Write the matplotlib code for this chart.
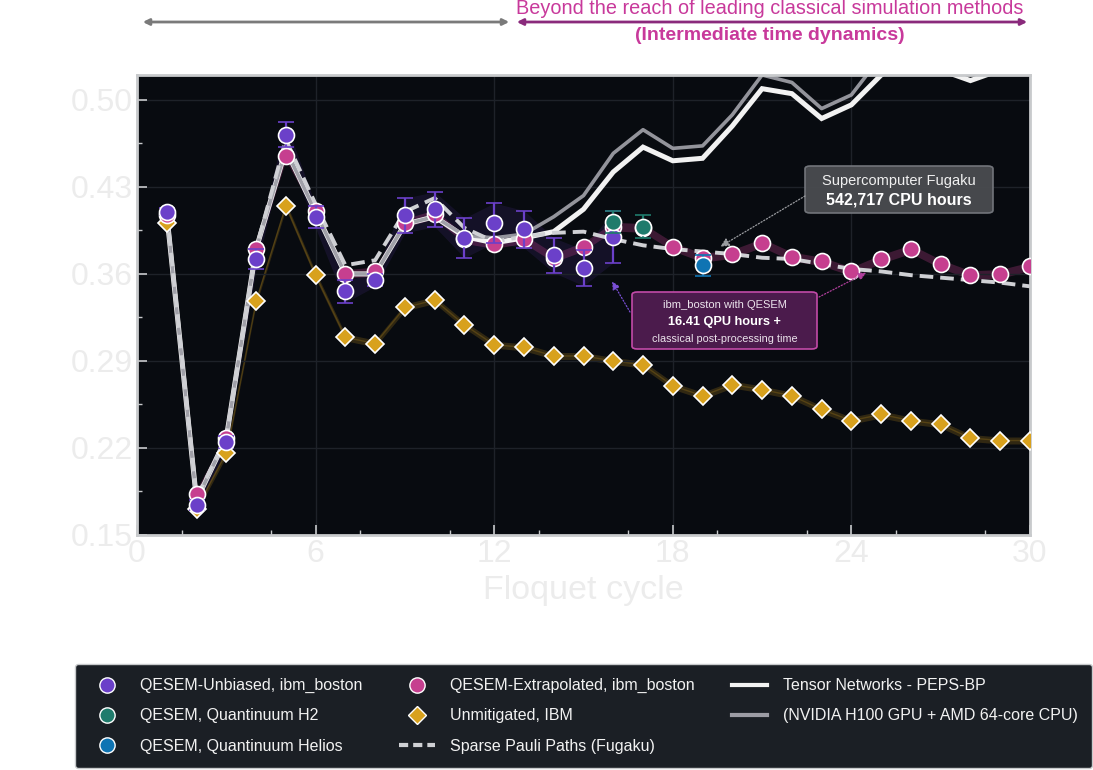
import numpy as np
import matplotlib
matplotlib.use("Agg")
import matplotlib.pyplot as plt
from matplotlib.lines import Line2D
from matplotlib.patches import FancyBboxPatch, FancyArrowPatch
from matplotlib.ticker import FixedLocator

plt.rcParams['font.family'] = ['Liberation Sans', 'DejaVu Sans']

# ---------------- data ----------------
cycles = list(range(1, 31))

unbiased_x = list(range(1, 17))
unbiased = [0.410, 0.174, 0.225, 0.372, 0.472, 0.406, 0.346, 0.355, 0.407, 0.412,
            0.389, 0.401, 0.396, 0.375, 0.365, 0.390]
unbiased_err = [0.003, 0.004, 0.005, 0.008, 0.010, 0.009, 0.009, 0.005, 0.014, 0.014,
                0.016, 0.016, 0.015, 0.014, 0.0145, 0.021]

extrapolated = [0.407, 0.183, 0.228, 0.380, 0.455, 0.411, 0.360, 0.362, 0.401, 0.408,
                0.388, 0.384, 0.388, 0.373, 0.382, 0.398, 0.397, 0.382, 0.373, 0.376,
                0.385, 0.374, 0.370, 0.362, 0.372, 0.380, 0.368, 0.359, 0.360, 0.366]
extrapolated_err = 0.0035

unmitigated = [0.401, 0.171, 0.216, 0.338, 0.415, 0.359, 0.309, 0.304, 0.333, 0.339,
               0.319, 0.303, 0.301, 0.294, 0.294, 0.290, 0.287, 0.270, 0.262, 0.271,
               0.267, 0.262, 0.251, 0.242, 0.247, 0.242, 0.239, 0.228, 0.226, 0.226]
unmitigated_err = 0.0028

h2_x = [16, 17]
h2 = [0.402, 0.398]
h2_err = [0.009, 0.009]

helios_x = [19]
helios = [0.367]
helios_err = [0.0085]

peps_bp = [0.408, 0.178, 0.228, 0.380, 0.460, 0.410, 0.360, 0.360, 0.400, 0.406,
           0.390, 0.385, 0.389, 0.394, 0.412, 0.442, 0.462, 0.451, 0.453, 0.479,
           0.509, 0.505, 0.485, 0.496, 0.520, 0.535, 0.524, 0.5155, 0.524, 0.535]
peps_gpu = [0.408, 0.178, 0.228, 0.380, 0.460, 0.410, 0.360, 0.360, 0.400, 0.406,
            0.391, 0.389, 0.392, 0.406, 0.423, 0.457, 0.476, 0.461, 0.463, 0.488,
            0.520, 0.514, 0.493, 0.504, 0.535, 0.550, 0.540, 0.535, 0.540, 0.550]
spp = [0.410, 0.180, 0.228, 0.380, 0.468, 0.416, 0.367, 0.371, 0.410, 0.421,
       0.397, 0.386, 0.390, 0.393, 0.394, 0.388, 0.383, 0.380, 0.378, 0.376,
       0.373, 0.372, 0.368, 0.364, 0.362, 0.359, 0.357, 0.355, 0.353, 0.350]

yticks = [0.15, 0.22, 0.29, 0.36, 0.43, 0.50]
xticks = [0, 6, 12, 18, 24, 30]

labels = ["QESEM-Unbiased, ibm_boston", "QESEM, Quantinuum H2", "QESEM, Quantinuum Helios",
          "QESEM-Extrapolated, ibm_boston", "Unmitigated, IBM", "Sparse Pauli Paths (Fugaku)",
          "Tensor Networks - PEPS-BP", "(NVIDIA H100 GPU + AMD 64-core CPU)"]

# ---------------- style ----------------
C_PURPLE = '#6b40c9'
C_PINK = '#c63f8f'
C_TEAL = '#1f7b6c'
C_BLUE = '#0f74b3'
C_GOLD = '#d8a11d'
C_WHITE = '#f2f2f2'
C_GRAY = '#9c9ca4'
C_DASH = '#cfd0d4'
C_TICK = '#ececec'

fig = plt.figure(figsize=(10.93, 7.70), dpi=100)
fig.patch.set_facecolor('white')
ax = fig.add_axes([137/1093, 1-535/770, 893/1093, 460/770])
ax.set_facecolor('#080b10')

x_c = np.array(cycles)
ub_x = np.array(unbiased_x)
ub = np.array(unbiased)
ub_e = np.array(unbiased_err)
ex = np.array(extrapolated)
um = np.array(unmitigated)

# bands
ax.fill_between(ub_x, ub - ub_e, ub + ub_e, color=C_PURPLE, alpha=0.13, lw=0, zorder=1)
ax.fill_between(x_c, ex - extrapolated_err, ex + extrapolated_err, color=C_PINK, alpha=0.28, lw=0, zorder=1)
ax.fill_between(x_c, um - unmitigated_err, um + unmitigated_err, color=C_GOLD, alpha=0.2, lw=0, zorder=1)
ax.plot(x_c, um, color=C_GOLD, alpha=0.22, lw=1, zorder=1.5)

# classical lines
ax.plot(x_c, peps_bp, color=C_WHITE, lw=3.6, zorder=2, solid_joinstyle='miter')
ax.plot(x_c, peps_gpu, color=C_GRAY, lw=2.6, alpha=0.95, zorder=2.1)
ax.plot(x_c, spp, color=C_DASH, lw=2.8, dashes=(3.5, 1.8), zorder=2.3)

# markers
mk = dict(markeredgecolor='white', markeredgewidth=1.2, linestyle='none')
ax.plot(x_c, um, marker='D', ms=9, color=C_GOLD, zorder=3, **mk)
ax.errorbar(x_c, ex, yerr=extrapolated_err, fmt='o', ms=11.5, color=C_PINK,
            ecolor=C_PINK, elinewidth=1.3, capsize=4, capthick=1.3,
            markeredgecolor='white', markeredgewidth=1.2, zorder=4)
ax.errorbar(ub_x, ub, yerr=ub_e, fmt='o', ms=11.5, color=C_PURPLE,
            ecolor=C_PURPLE, elinewidth=1.6, capsize=5.5, capthick=1.6,
            markeredgecolor='white', markeredgewidth=1.2, zorder=5)
ax.errorbar(h2_x, h2, yerr=h2_err, fmt='o', ms=11.5, color=C_TEAL,
            ecolor=C_TEAL, elinewidth=1.6, capsize=5.5, capthick=1.6,
            markeredgecolor='white', markeredgewidth=1.2, zorder=6)
ax.errorbar(helios_x, helios, yerr=helios_err, fmt='o', ms=11.5, color=C_BLUE,
            ecolor=C_BLUE, elinewidth=1.6, capsize=5.5, capthick=1.6,
            markeredgecolor='white', markeredgewidth=1.2, zorder=6)

# axes
ax.set_xlim(0, 30)
ax.set_ylim(0.15, 0.52)
ax.set_xticks(xticks)
ax.set_yticks(yticks)
ax.set_yticklabels([f"{t:.2f}" for t in yticks])
ax.xaxis.set_minor_locator(FixedLocator(list(np.arange(1.5, 30, 3.0))))
ax.yaxis.set_minor_locator(FixedLocator([t + 0.035 for t in yticks]))
ax.grid(True, which='major', color='#1e2229', lw=1, zorder=0)
ax.tick_params(which='major', direction='in', length=7, width=1.2, color='#c8cacc',
               labelsize=23, labelcolor=C_TICK, pad=3)
ax.tick_params(which='minor', direction='in', length=3.5, width=1.0, color='#c8cacc')
for s in ax.spines.values():
    s.set_color('#c8cacc')
    s.set_linewidth(2)
ax.set_xlabel("Floquet cycle", fontsize=24.5, color=C_TICK, labelpad=4)

# annotation boxes
def box(x0, y0, x1, y1, fc, ec, alpha=1.0):
    p = FancyBboxPatch((x0, y0), x1 - x0, y1 - y0, boxstyle="round,pad=0,rounding_size=0.006",
                       transform=ax.transAxes, fc=fc, ec=ec, lw=1.2, alpha=alpha, zorder=8)
    ax.add_patch(p)

# Fugaku box
box((805-137)/893, (535-213)/460, (993-137)/893, (535-166)/460, '#4a4c50', '#75787e', 0.95)
cx1 = ((805+993)/2 - 137)/893
ax.text(cx1, (535-181)/460, "Supercomputer Fugaku", transform=ax.transAxes, ha='center', va='center',
        fontsize=10.5, color='#f0f0f0', zorder=9)
ax.text(cx1, (535-200)/460, "542,717 CPU hours", transform=ax.transAxes, ha='center', va='center',
        fontsize=11.5, fontweight='bold', color='#ffffff', zorder=9)
ax.annotate("", xy=(19.6, 0.382), xycoords='data',
            xytext=((805-137)/893, (535-196)/460), textcoords='axes fraction',
            arrowprops=dict(arrowstyle='-|>', linestyle=(0, (1, 1.5)), color='#9a9ca0', lw=0.9,
                            mutation_scale=13, shrinkA=0, shrinkB=0), zorder=8)

# ibm box
box((632-137)/893, (535-349)/460, (817-137)/893, (535-292)/460, '#4b1b4c', '#c24aa8', 1.0)
cx2 = ((632+817)/2 - 137)/893
ax.text(cx2, (535-305)/460, "ibm_boston with QESEM", transform=ax.transAxes, ha='center', va='center',
        fontsize=8, color='#ece4ec', zorder=9)
ax.text(cx2, (535-322)/460, "16.41 QPU hours +", transform=ax.transAxes, ha='center', va='center',
        fontsize=9.2, fontweight='bold', color='#ffffff', zorder=9)
ax.text(cx2, (535-339)/460, "classical post-processing time", transform=ax.transAxes, ha='center',
        va='center', fontsize=7.8, color='#ece4ec', zorder=9)
ax.annotate("", xy=(15.96, 0.354), xycoords='data',
            xytext=((630-137)/893, (535-312)/460), textcoords='axes fraction',
            arrowprops=dict(arrowstyle='-|>', linestyle=(0, (1, 1.5)), color='#7a4fd6', lw=0.9,
                            mutation_scale=12, shrinkA=0, shrinkB=0), zorder=8)
ax.annotate("", xy=(24.5, 0.361), xycoords='data',
            xytext=((819-137)/893, (535-297)/460), textcoords='axes fraction',
            arrowprops=dict(arrowstyle='-|>', linestyle=(0, (1, 1.5)), color='#b03f9c', lw=0.9,
                            mutation_scale=12, shrinkA=0, shrinkB=0), zorder=8)

# top region arrows & text
fig.add_artist(FancyArrowPatch((140/1093, 1-22/770), (512/1093, 1-22/770), transform=fig.transFigure,
                               arrowstyle='<|-|>', mutation_scale=9, color='#7a7a7a', lw=2))
fig.add_artist(FancyArrowPatch((514/1093, 1-22/770), (1030/1093, 1-22/770), transform=fig.transFigure,
                               arrowstyle='<|-|>', mutation_scale=9, color='#8a2a7c', lw=2))
fig.text(770/1093, 1-9/770, "Beyond the reach of leading classical simulation methods",
         ha='center', va='center', fontsize=14.3, color='#c8399b')
fig.text(770/1093, 1-36/770, "(Intermediate time dynamics)",
         ha='center', va='center', fontsize=14, fontweight='bold', color='#c8399b')

# legend
lm = dict(markeredgecolor='white', markeredgewidth=1.0, linestyle='none')
handles = [
    Line2D([], [], marker='o', ms=11, color=C_PURPLE, **lm),
    Line2D([], [], marker='o', ms=11, color=C_TEAL, **lm),
    Line2D([], [], marker='o', ms=11, color=C_BLUE, **lm),
    Line2D([], [], marker='o', ms=11, color=C_PINK, **lm),
    Line2D([], [], marker='D', ms=9, color=C_GOLD, **lm),
    Line2D([], [], color=C_DASH, lw=3, dashes=(2.2, 1.2)),
    Line2D([], [], color=C_WHITE, lw=3),
    Line2D([], [], color=C_GRAY, lw=3),
]
leg = fig.legend(handles, labels, ncol=3, loc='lower left',
                 bbox_to_anchor=(75/1093, 2/770, 1017/1093, 105/770), mode='expand',
                 fontsize=11.5, labelcolor='#f2f2f2', frameon=True, fancybox=True,
                 facecolor='#1b1f25', edgecolor='#c8cacc', framealpha=1.0,
                 handlelength=2.2, handletextpad=1.0, labelspacing=0.95, borderpad=0.9,
                 borderaxespad=0, columnspacing=0.4)
leg.get_frame().set_linewidth(1.0)

fig.savefig("out.png", dpi=100, facecolor=fig.get_facecolor())
